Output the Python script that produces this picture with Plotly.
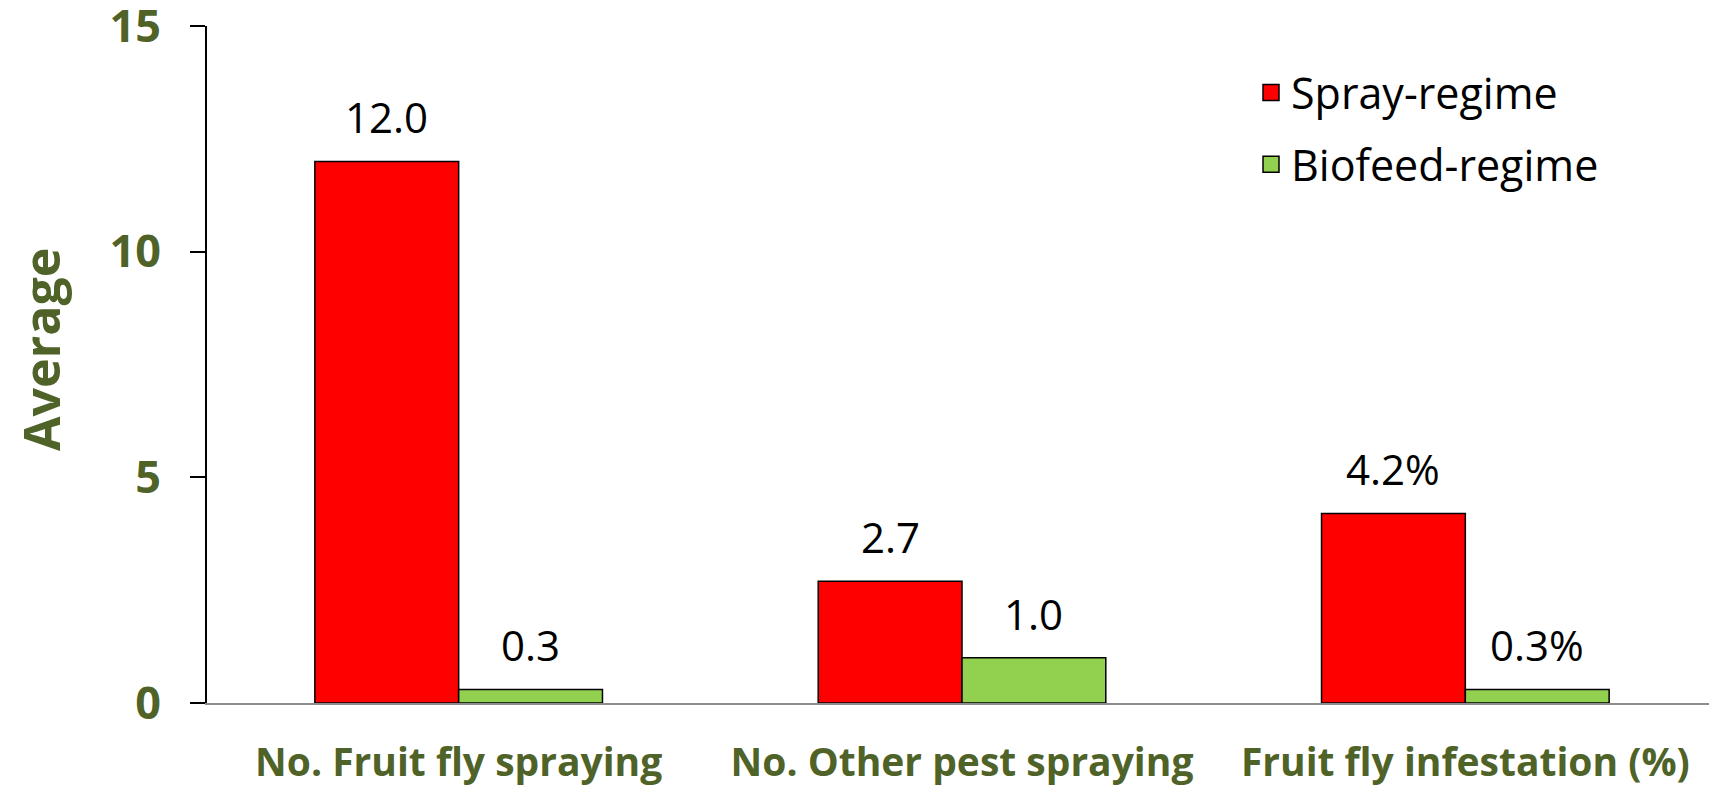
import plotly.graph_objects as go

categories = ["No. Fruit fly spraying", "No. Other pest spraying", "Fruit fly infestation (%)"]
spray_values = [12.0, 2.7, 4.2]
biofeed_values = [0.3, 1.0, 0.3]
spray_labels = ["12.0", "2.7", "4.2%"]
biofeed_labels = ["0.3", "1.0", "0.3%"]
y_ticks = [0, 5, 10, 15]

GREEN_TXT = "#4F6228"
FONT = "Open Sans"

fig = go.Figure()
fig.add_trace(go.Bar(name="Spray-regime", x=categories, y=spray_values,
                     marker=dict(color="#FF0000", line=dict(color="black", width=1.5)),
                     showlegend=False))
fig.add_trace(go.Bar(name="Biofeed-regime", x=categories, y=biofeed_values,
                     marker=dict(color="#92D050", line=dict(color="black", width=1.5)),
                     showlegend=False))
# legend entries
fig.add_trace(go.Scatter(name="Spray-regime", x=[None], y=[None], mode="markers", legendgroup="a",
                         marker=dict(symbol="square", size=16, color="#FF0000",
                                     line=dict(color="black", width=1.5))))
fig.add_trace(go.Scatter(name="Biofeed-regime", x=[None], y=[None], mode="markers", legendgroup="b",
                         marker=dict(symbol="square", size=16, color="#92D050",
                                     line=dict(color="black", width=1.5))))

# page has an 8px body margin, so the figure is sized to fit the 1717x790 window
W, H = 1709, 782
ml, mr, mt, mb = 199, 0, 18, 87
plot_w = W - ml - mr
plot_h = H - mt - mb
cat_w = plot_w / len(categories)
bargap = 0.4286
bar_px = cat_w * (1 - bargap) / 2

annotations = []
for cat, v, t in zip(categories, spray_values, spray_labels):
    annotations.append(dict(x=cat, y=v, text=t, xref="x", yref="y", showarrow=False,
                            xshift=-bar_px / 2, yshift=14, yanchor="bottom",
                            font=dict(family=FONT, size=42, color="black")))
for cat, v, t in zip(categories, biofeed_values, biofeed_labels):
    annotations.append(dict(x=cat, y=v, text=t, xref="x", yref="y", showarrow=False,
                            xshift=bar_px / 2, yshift=14, yanchor="bottom",
                            font=dict(family=FONT, size=42, color="black")))
annotations.append(dict(text="<b>Average</b>", xref="paper", yref="paper",
                        x=(33 - ml) / plot_w, y=(H - mb - 342) / plot_h,
                        xanchor="center", yanchor="middle", textangle=-90, showarrow=False,
                        font=dict(family=FONT, size=50, color=GREEN_TXT)))

fig.update_layout(
    width=W, height=H,
    margin=dict(l=ml, r=mr, t=mt, b=mb, autoexpand=False),
    paper_bgcolor="white", plot_bgcolor="white",
    barmode="group", bargap=bargap, bargroupgap=0,
    annotations=annotations,
    legend=dict(x=(1243 - ml) / plot_w, y=(H - mb - 50) / plot_h, xanchor="left", yanchor="top",
                font=dict(family=FONT, size=43, color="black"),
                bgcolor="rgba(0,0,0,0)", tracegroupgap=13, itemwidth=30),
    font=dict(family=FONT),
)
fig.update_xaxes(showline=True, linecolor="#8C8C8C", linewidth=2, ticks="",
                 showgrid=False, zeroline=False, ticklabelstandoff=24, automargin=False,
                 tickfont=dict(family=FONT, size=39, color=GREEN_TXT, weight="bold"))
fig.update_yaxes(range=[0, 15], tickvals=y_ticks, showline=True, linecolor="black", linewidth=2,
                 ticks="outside", ticklen=15, tickwidth=2, tickcolor="black",
                 showgrid=False, zeroline=False, ticklabelstandoff=20, automargin=False,
                 ticklabeloverflow="allow",
                 tickfont=dict(family=FONT, size=45, color=GREEN_TXT, weight="bold"))

fig.write_html("out.html")
